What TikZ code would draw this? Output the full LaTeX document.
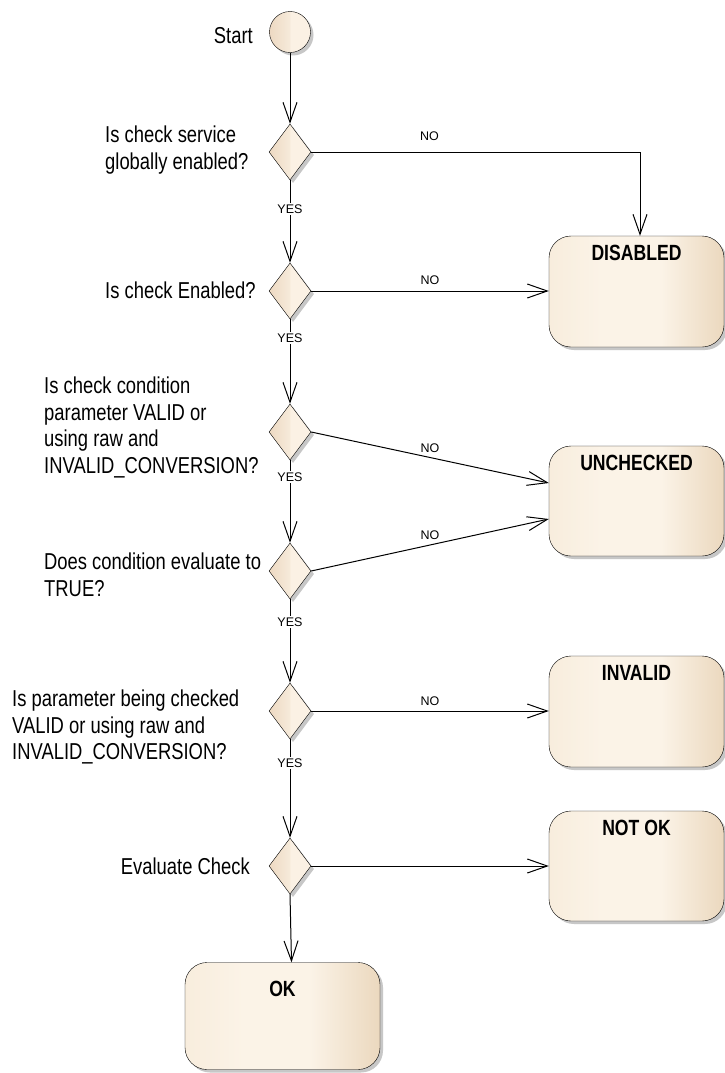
\documentclass[tikz,border=0pt]{standalone}
\usepackage{fontspec}
\setmainfont{Liberation Sans}
\newfontfamily\narrowfont[FakeStretch=0.8]{Liberation Sans}
\usetikzlibrary{shapes.geometric,shadows,arrows.meta}
\definecolor{boxleft}{HTML}{F8EDDD}
\definecolor{boxmid}{HTML}{FBF3E7}
\definecolor{boxright}{HTML}{EBD8BE}
\definecolor{tipleft}{HTML}{EDD9C2}
\definecolor{tipmid}{HTML}{F6EADA}
\definecolor{tipright}{HTML}{FBF1E4}
\pgfdeclarehorizontalshading{boxshade}{100bp}{color(0bp)=(boxleft); color(25bp)=(boxleft); color(40bp)=(boxmid); color(57bp)=(boxmid); color(75bp)=(boxright); color(100bp)=(boxright)}
\pgfdeclarehorizontalshading{tipshade}{100bp}{color(0bp)=(tipleft); color(25bp)=(tipleft); color(49.5bp)=(tipmid); color(50bp)=(tipright); color(75bp)=(tipright); color(100bp)=(tipright)}
\tikzstyle{shade} = [drop shadow={shadow xshift=3pt, shadow yshift=-3pt, fill=black!22, opacity=1}]
\tikzstyle{startnode} = [draw=black, circle, minimum size=41pt, inner sep=0pt, shading=tipshade, shade]
\tikzstyle{decision} = [draw=black, diamond, minimum width=42pt, minimum height=56pt, inner sep=0pt, shading=tipshade, shade]
\tikzstyle{statebox} = [draw=black, rectangle, rounded corners=22pt, minimum width=175pt, minimum height=111pt, shading=boxshade, shade]
\tikzstyle{boxtitle} = [font=\narrowfont\bfseries\fontsize{22}{26}\selectfont, inner sep=0pt, anchor=north, yshift=-9pt]
\tikzstyle{question} = [font=\narrowfont\fontsize{23}{26.5}\selectfont, align=left, inner sep=0pt]
\tikzstyle{guard} = [font=\fontsize{12.5}{14}\selectfont, inner sep=1.5pt]
\tikzstyle{yes} = [guard, fill=white]
\tikzstyle{flow} = [draw=black, line width=1pt, -{Straight Barb[length=20pt,width=14pt,line width=1pt]}]

\begin{document}
\begin{tikzpicture}[x=1pt, y=-1pt]
\path[use as bounding box, fill=white] (0,0) rectangle (725,1073);

% start and decisions
\node[startnode] (start) at (290,32) {};
\node[decision] (d1) at (290,152) {};
\node[decision] (d2) at (290,291) {};
\node[decision] (d3) at (290,432) {};
\node[decision] (d4) at (290,571) {};
\node[decision] (d5) at (290,711) {};
\node[decision] (d6) at (290,866) {};

% final states
\node[statebox, label={[boxtitle]north:DISABLED}] (dis) at (636.5,291.5) {};
\node[statebox, minimum height=110pt, label={[boxtitle]north:UNCHECKED}] (unc) at (636.5,501) {};
\node[statebox, label={[boxtitle]north:INVALID}] (inv) at (636.5,711.5) {};
\node[statebox, minimum height=110pt, label={[boxtitle]north:NOT OK}] (notok) at (636.5,866) {};
\node[statebox, minimum width=195pt, minimum height=107pt, label={[boxtitle, yshift=-10pt]north:OK}] (ok) at (282.5,1016) {};

% questions
\node[question, anchor=north east] (startlbl) at (253,27) {Start};
\node[question, anchor=north west] (q1) at (105,126) {Is check service\\globally enabled?};
\node[question, anchor=north west] (q2) at (105,282) {Is check Enabled?};
\node[question, anchor=north west] (q3) at (44,377) {Is check condition\\parameter VALID or\\using raw and\\INVALID\_CONVERSION?};
\node[question, anchor=north west] (q4) at (44,553) {Does condition evaluate to\\TRUE?};
\node[question, anchor=north west] (q5) at (12,690) {Is parameter being checked\\VALID or using raw and\\INVALID\_CONVERSION?};
\node[question, anchor=north east] (q6) at (250,858) {Evaluate Check};

% yes path
\draw[flow] (start) -- (d1);
\draw[flow] (d1) -- node[yes, pos=0.35] {YES} (d2);
\draw[flow] (d2) -- node[yes, pos=0.22] {YES} (d3);
\draw[flow] (d3) -- node[yes, pos=0.2] {YES} (d4);
\draw[flow] (d4) -- node[yes, pos=0.27] {YES} (d5);
\draw[flow] (d5) -- node[yes, pos=0.24] {YES} (d6);
\draw[flow] (d6.south) -- ([xshift=9pt]ok.north);

% no path
\draw[flow] (d1.east) -| node[guard, pos=0.18, above=9pt] {NO} ([xshift=3.5pt]dis.north);
\draw[flow] (d2.east) -- node[guard, above=4.5pt] {NO} (d2.east -| dis.west);
\draw[flow] (d3.east) -- node[guard, above=3pt] {NO} ([yshift=18pt]unc.west);
\draw[flow] (d4.east) -- node[guard, above=3pt] {NO} ([yshift=-18pt]unc.west);
\draw[flow] (d5.east) -- node[guard, above=3pt] {NO} (d5.east -| inv.west);
\draw[flow] (d6.east) -- (d6.east -| notok.west);
\end{tikzpicture}
\end{document}
